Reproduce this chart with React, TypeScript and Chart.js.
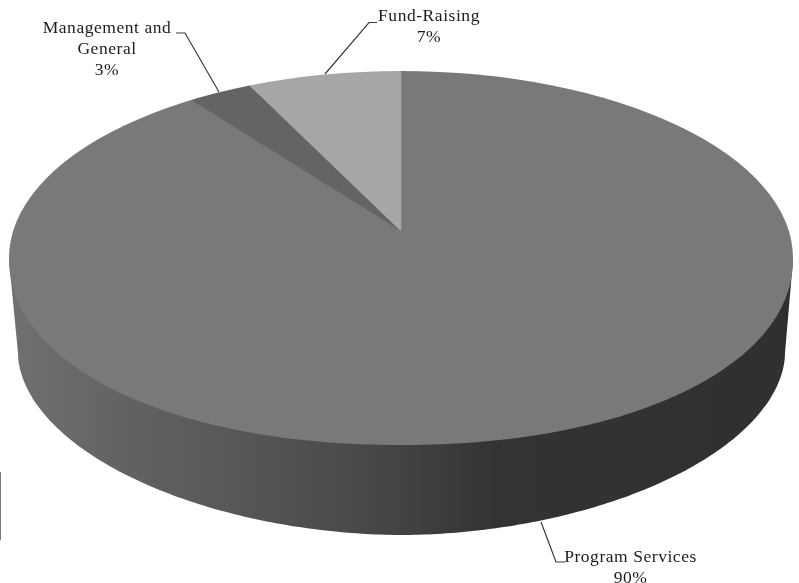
import React, { useEffect, useRef } from "react";
import { Chart, registerables } from "chart.js";

Chart.register(...registerables);

const categories = ["Program Services", "Management and General", "Fund-Raising"];
const values = [90, 3, 7];
const sliceColors = ["#797979", "#646464", "#a6a6a6"];
const labelLines = [["Program Services"], ["Management and", "General"], ["Fund-Raising"]];

const W = 799;
const H = 583;
const apex = { x: 401, y: 231 };
const top = { cx: 401, cy: 258, rx: 392, ry: 187, p: 2.1 };
const bottom = { cx: 401.5, cy: 353, rx: 383.5, ry: 182, p: 1.9 };
const FLATTEN = 0.453;
const DRAWN_RADIUS = 520;
const labelBoxes = [
  { x: 630.5, y: 557, leader: [[541, 522], [556, 562], [565, 562]] },
  { x: 107, y: 28, leader: [[219, 92], [185, 33], [176, 33]] },
  { x: 429, y: 16.5, leader: [[325, 74], [369, 22.5], [377, 22.5]] },
];
const LINE_H = 21;

// Lower half of the rim, from the left extreme round to the right extreme.
function lowerRim(ctx: any, e: { cx: number; cy: number; rx: number; ry: number; p: number }) {
  const steps = 240;
  for (let i = 0; i <= steps; i++) {
    const a = Math.PI - (i / steps) * Math.PI;
    const c = Math.cos(a);
    const s = Math.sin(a);
    const x = e.cx + e.rx * Math.sign(c) * Math.pow(Math.abs(c), 2 / e.p);
    const y = e.cy + e.ry * Math.pow(Math.abs(s), 2 / e.p);
    ctx.lineTo(x, y);
  }
}

const pie3d = {
  id: "pie3d",
  beforeDatasetsDraw(chart: any) {
    const { ctx } = chart;
    const arc = chart.getDatasetMeta(0).data[0];
    ctx.save();
    const g = ctx.createLinearGradient(10, 0, 793, 0);
    g.addColorStop(0, "#707070");
    g.addColorStop(0.15, "#626262");
    g.addColorStop(0.35, "#525252");
    g.addColorStop(0.5, "#434343");
    g.addColorStop(0.62, "#333333");
    g.addColorStop(1, "#303030");
    ctx.fillStyle = g;
    ctx.beginPath();
    ctx.moveTo(top.cx - top.rx, top.cy + 2);
    lowerRim(ctx, bottom);
    ctx.lineTo(top.cx + top.rx, top.cy + 2);
    ctx.closePath();
    ctx.fill();
    ctx.restore();

    ctx.save();
    ctx.beginPath();
    ctx.ellipse(top.cx, top.cy, top.rx, top.ry, 0, Math.PI, 0, false);
    const steps = 240;
    for (let i = 0; i <= steps; i++) {
      const a = (i / steps) * Math.PI;
      const c = Math.cos(a);
      const s = Math.sin(a);
      ctx.lineTo(
        top.cx + top.rx * Math.sign(c) * Math.pow(Math.abs(c), 2 / top.p),
        top.cy + top.ry * Math.pow(Math.abs(s), 2 / top.p)
      );
    }
    ctx.closePath();
    ctx.clip();
    const k = DRAWN_RADIUS / arc.outerRadius;
    ctx.translate(apex.x, apex.y);
    ctx.scale(k, k * FLATTEN);
    ctx.translate(-arc.x, -arc.y);
  },
  afterDatasetsDraw(chart: any) {
    const { ctx } = chart;
    ctx.restore();
    ctx.save();
    ctx.strokeStyle = "#3a3a3a";
    ctx.lineWidth = 1.2;
    ctx.fillStyle = "#1c1c1c";
    ctx.font = "17.5px 'Liberation Serif'";
    (ctx as any).letterSpacing = "0.55px";
    ctx.textAlign = "center";
    ctx.textBaseline = "middle";
    categories.forEach((_, i) => {
      const box = labelBoxes[i];
      ctx.beginPath();
      box.leader.forEach(([x, y], j) => (j ? ctx.lineTo(x, y) : ctx.moveTo(x, y)));
      ctx.stroke();
      const lines = [...labelLines[i], `${values[i]}%`];
      lines.forEach((t, j) => ctx.fillText(t, box.x, box.y + j * LINE_H));
    });
    ctx.fillStyle = "#777777";
    ctx.fillRect(0, 472, 1, 68);
    ctx.restore();
  },
};

export default function App() {
  const ref = useRef<HTMLCanvasElement>(null);
  useEffect(() => {
    document.body.style.margin = "0";
    document.body.style.overflow = "hidden";
    const chart = new Chart(ref.current!, {
      type: "pie",
      data: {
        labels: categories,
        datasets: [{ data: values, backgroundColor: sliceColors, borderColor: sliceColors, borderWidth: 0.4 }],
      },
      options: {
        animation: false,
        responsive: false,
        devicePixelRatio: 1,
        plugins: { legend: { display: false }, tooltip: { enabled: false } },
      },
      plugins: [pie3d],
    });
    return () => chart.destroy();
  }, []);
  return <canvas ref={ref} width={W} height={H} style={{ display: "block", background: "#fff" }} />;
}
